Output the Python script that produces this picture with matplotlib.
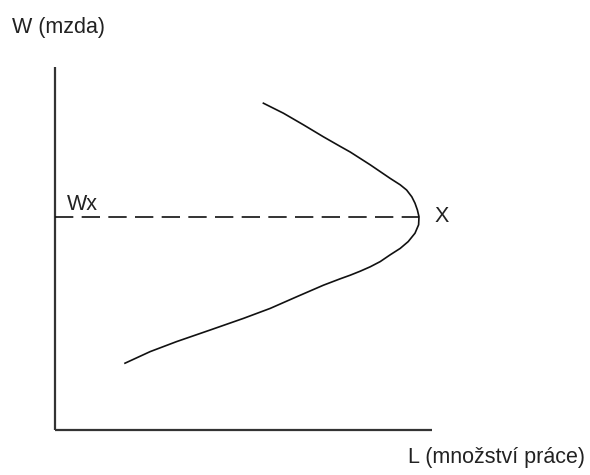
import matplotlib
matplotlib.use("Agg")
import matplotlib.pyplot as plt

# backward-bending labour supply curve, L = quantity of labour, W = wage
supply_L = [52.1, 57.1, 62.1, 67.1, 71.3, 73.8, 76.3, 78.8, 81.3, 83.8, 86.3,
            87.9, 89.2, 90.0, 90.6, 91.0, 90.9, 90.0, 88.3, 86.3, 83.8, 81.3,
            78.8, 76.3, 73.8, 71.3, 67.1, 60.4, 53.8, 47.1, 38.8, 30.4, 23.8,
            17.5]
supply_W = [81.7, 79.2, 76.3, 73.3, 70.9, 69.5, 67.9, 66.3, 64.6, 62.9, 61.3,
            60.0, 58.3, 56.7, 55.0, 53.3, 51.3, 49.2, 47.1, 45.4, 43.8, 42.1,
            40.8, 39.7, 38.7, 37.8, 36.2, 33.3, 30.4, 27.9, 25.0, 22.1, 19.6,
            16.7]

wage_x = 53.3          # Wx, wage at the turning point X
labour_x = 91.0        # labour supplied at X
axis_L_max = 94.25
axis_W_max = 90.75

plt.rcParams["font.family"] = ["Liberation Sans", "DejaVu Sans"]

fig = plt.figure(figsize=(5.9, 4.75), dpi=100)
ax = fig.add_axes([0, 0, 1, 1])
ax.set_xlim(-13.75, 133.75)
ax.set_ylim(-11.25, 107.5)
ax.axis("off")

# axes drawn by hand
ax.plot([0, 0], [0, axis_W_max], color="#333333", lw=1.6, solid_capstyle="butt")
ax.plot([0, axis_L_max], [0, 0], color="#333333", lw=1.6, solid_capstyle="butt")

ax.plot(supply_L, supply_W, color="#111111", lw=1.2)
ax.plot([0, labour_x], [wage_x, wage_x], color="#111111", lw=1.2,
        dashes=(11, 5))

txt = dict(color="#222222", fontsize=15.5, va="center")
ax.text(-10.75, 100.7, "W (mzda)", ha="left", **txt)
ax.text(88.25, -6.9, "L (množství práce)", ha="left", **txt)
ax.text(3.0, 56.5, "Wx", ha="left", **txt)
ax.text(96.75, wage_x, "X", ha="center", **txt)

fig.savefig("out.png", dpi=100)
